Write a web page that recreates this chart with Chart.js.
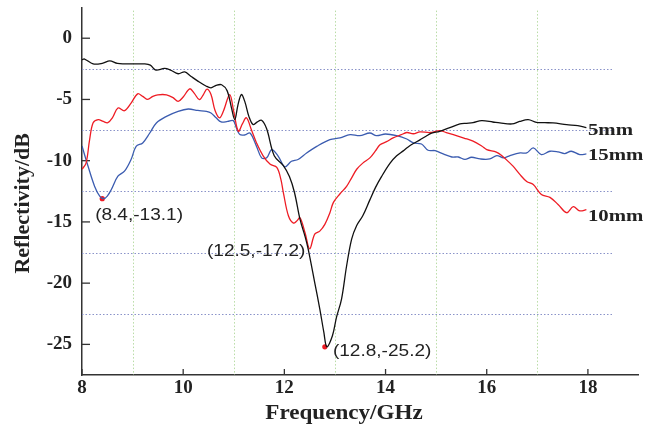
<!DOCTYPE html>
<html>
<head>
<meta charset="utf-8">
<script src="https://cdn.jsdelivr.net/npm/chart.js@4.4.1/dist/chart.umd.min.js"></script>
<style>
  html, body { margin: 0; padding: 0; background: #fff; }
  #wrap { width: 658px; height: 431px; }
</style>
</head>
<body>
<div id="wrap"><canvas id="chart"></canvas></div>
<script>
// tick labels
const xTicks = [8, 10, 12, 14, 16, 18];
const yTicks = [0, -5, -10, -15, -20, -25];
const xGridMinor = [9, 11, 13, 15, 17];
const yGridMinor = [-2.5, -7.5, -12.5, -17.5, -22.5];

// 5mm (black)
const freq5 = [8.0, 8.05, 8.22, 8.4, 8.55, 8.7, 9.05, 9.24, 9.35, 9.46, 9.63, 9.75, 9.9, 10.03, 10.15, 10.29, 10.45, 10.55, 10.65, 10.76, 10.87, 10.95, 11.02, 11.08, 11.15, 11.22, 11.3, 11.38, 11.46, 11.55, 11.65, 11.8, 11.98, 12.1, 12.2, 12.31, 12.41, 12.47, 12.6, 12.7, 12.78, 12.84, 12.95, 13.03, 13.13, 13.23, 13.33, 13.43, 13.55, 13.69, 13.8, 13.92, 14.09, 14.22, 14.35, 14.44, 14.55, 14.68, 14.8, 14.91, 15.07, 15.27, 15.47, 15.6, 15.73, 15.9, 16.12, 16.26, 16.5, 16.65, 16.82, 16.98, 17.15, 17.31, 17.58, 17.8, 17.97];
const refl5 = [-1.75, -1.7, -2.1, -2.05, -1.85, -2.05, -2.1, -2.1, -2.2, -2.6, -2.47, -2.6, -2.9, -2.75, -3.1, -3.5, -3.9, -4.05, -3.85, -3.8, -4.3, -5.6, -6.65, -5.5, -4.6, -5.2, -6.4, -7.05, -6.85, -6.7, -7.4, -9.6, -10.4, -11.3, -12.6, -14.8, -16.2, -17.2, -19.95, -22.1, -24.0, -25.2, -24.3, -22.8, -21.3, -18.6, -16.4, -15.3, -14.5, -13.2, -12.2, -11.3, -10.2, -9.6, -9.2, -8.9, -8.6, -8.3, -8.0, -7.75, -7.6, -7.3, -7.0, -6.95, -6.9, -6.73, -6.84, -6.92, -7.0, -6.8, -6.65, -6.87, -6.9, -6.92, -7.06, -7.14, -7.3];

// 10mm (red)
const freq10 = [8.0, 8.08, 8.15, 8.22, 8.32, 8.42, 8.51, 8.6, 8.71, 8.84, 8.97, 9.1, 9.2, 9.3, 9.4, 9.5, 9.67, 9.8, 9.9, 10.0, 10.13, 10.22, 10.32, 10.4, 10.47, 10.55, 10.63, 10.72, 10.8, 10.92, 11.0, 11.09, 11.17, 11.25, 11.35, 11.45, 11.58, 11.72, 11.85, 11.93, 11.98, 12.08, 12.18, 12.25, 12.31, 12.41, 12.5, 12.6, 12.7, 12.8, 12.9, 12.97, 13.1, 13.23, 13.33, 13.43, 13.55, 13.69, 13.8, 13.89, 14.02, 14.15, 14.3, 14.42, 14.55, 14.68, 14.88, 15.07, 15.2, 15.34, 15.55, 15.73, 15.9, 16.0, 16.19, 16.3, 16.46, 16.52, 16.65, 16.79, 16.92, 17.08, 17.25, 17.41, 17.58, 17.71, 17.84, 17.97];
const refl10 = [-10.7, -10.2, -8.3, -6.9, -6.65, -6.8, -6.9, -6.5, -5.7, -5.92, -5.3, -4.54, -4.75, -5.0, -4.75, -4.62, -4.62, -4.85, -5.16, -4.8, -4.13, -4.5, -5.02, -4.6, -4.15, -4.6, -5.9, -6.5, -5.9, -4.6, -6.0, -7.6, -7.0, -6.5, -7.5, -8.55, -9.6, -10.3, -10.55, -11.5, -12.6, -14.5, -15.1, -14.9, -14.66, -15.9, -17.2, -16.0, -15.75, -15.2, -14.25, -13.4, -12.7, -12.1, -11.4, -10.7, -10.2, -9.77, -9.2, -8.7, -8.45, -8.14, -7.9, -7.7, -7.8, -7.65, -7.7, -7.55, -7.7, -7.87, -8.15, -8.4, -8.8, -9.1, -9.3, -9.6, -10.2, -10.45, -11.1, -11.7, -11.95, -12.76, -13.0, -13.57, -14.25, -13.76, -14.1, -14.0];

// 15mm (blue)
const freq15 = [8.0, 8.12, 8.25, 8.35, 8.43, 8.5, 8.58, 8.71, 8.84, 8.97, 9.07, 9.2, 9.34, 9.47, 9.67, 9.9, 10.1, 10.29, 10.46, 10.55, 10.65, 10.75, 10.88, 10.99, 11.05, 11.12, 11.22, 11.32, 11.45, 11.55, 11.65, 11.75, 11.88, 12.01, 12.14, 12.27, 12.44, 12.64, 12.9, 13.1, 13.3, 13.49, 13.69, 13.82, 14.0, 14.22, 14.42, 14.55, 14.71, 14.84, 14.98, 15.14, 15.31, 15.44, 15.57, 15.7, 15.87, 16.06, 16.2, 16.33, 16.46, 16.66, 16.79, 16.92, 17.08, 17.25, 17.41, 17.54, 17.67, 17.84, 17.97];
const refl15 = [-8.8, -10.46, -12.1, -12.9, -13.1, -12.9, -12.35, -11.27, -10.86, -9.9, -8.83, -8.55, -7.74, -6.92, -6.38, -5.97, -5.78, -5.9, -5.97, -6.1, -6.5, -6.84, -6.79, -6.73, -7.3, -7.87, -7.9, -7.74, -8.83, -9.77, -9.77, -9.1, -9.64, -10.5, -10.05, -9.9, -9.37, -8.83, -8.28, -8.14, -7.87, -7.96, -7.74, -7.96, -7.82, -7.96, -8.23, -8.55, -8.64, -9.15, -9.18, -9.45, -9.7, -9.7, -9.9, -9.72, -9.86, -9.86, -9.58, -9.77, -9.58, -9.37, -9.37, -8.96, -9.5, -9.23, -9.28, -9.42, -9.23, -9.5, -9.45];

// marked minima
const minFreq = [8.4, 12.8];
const minRefl = [-13.1, -25.2];

// annotation texts
const annText = ['(8.4,-13.1)', '(12.5,-17.2)', '(12.8,-25.2)'];
const annX = [8.26, 10.47, 12.96];
const annY = [-14.45, -17.46, -25.55];

// curve names at the right end
const seriesNames = ['5mm', '15mm', '10mm'];
const nameY = [-7.6, -9.6, -14.6];

const xTitle = 'Frequency/GHz';
const yTitle = 'Reflectivity/dB';

function pts(xs, ys) {
    return xs.map((x, i) => ({ x: x, y: ys[i] }));
}

function stretchText(ctx, txt, x, y, font, sx, align) {
    ctx.save();
    ctx.font = font;
    ctx.textBaseline = 'middle';
    ctx.textAlign = align || 'left';
    ctx.translate(x, y);
    ctx.scale(sx, 1);
    ctx.fillText(txt, 0, 0);
    ctx.restore();
}

// dotted guide lines, inward tick marks, texts
const framePlugin = {
    id: 'frame',
    beforeDatasetsDraw(chart) {
        const { ctx, chartArea, scales } = chart;
        const xs = scales.x, ys = scales.y;
        ctx.save();
        ctx.lineWidth = 1;
        ctx.setLineDash([1.5, 2]);
        ctx.strokeStyle = '#b9dca6';
        xGridMinor.forEach(v => {
            const px = Math.round(xs.getPixelForValue(v)) + 0.5;
            ctx.beginPath();
            ctx.moveTo(px, chartArea.top + 3);
            ctx.lineTo(px, chartArea.bottom);
            ctx.stroke();
        });
        ctx.strokeStyle = '#8a93c9';
        yGridMinor.forEach(v => {
            const py = Math.round(ys.getPixelForValue(v)) + 0.5;
            ctx.beginPath();
            ctx.moveTo(chartArea.left, py);
            ctx.lineTo(xs.getPixelForValue(18.5), py);
            ctx.stroke();
        });
        ctx.setLineDash([]);
        ctx.strokeStyle = '#333';
        ctx.lineWidth = 1.3;
        yTicks.forEach(v => {
            const py = ys.getPixelForValue(v);
            ctx.beginPath();
            ctx.moveTo(chartArea.left, py);
            ctx.lineTo(chartArea.left + 8, py);
            ctx.stroke();
        });
        xTicks.forEach(v => {
            const px = xs.getPixelForValue(v);
            ctx.beginPath();
            ctx.moveTo(px, chartArea.bottom);
            ctx.lineTo(px, chartArea.bottom - 6);
            ctx.stroke();
        });
        ctx.restore();
    },
    afterDatasetsDraw(chart) {
        const { ctx, scales, chartArea } = chart;
        const xs = scales.x, ys = scales.y;
        ctx.save();
        ctx.fillStyle = '#222';
        annText.forEach((t, i) => {
            stretchText(ctx, t, xs.getPixelForValue(annX[i]), ys.getPixelForValue(annY[i]),
                '16px "Liberation Sans", Arial, sans-serif', 1.19);
        });
        seriesNames.forEach((t, i) => {
            stretchText(ctx, t, xs.getPixelForValue(18.0), ys.getPixelForValue(nameY[i]),
                'bold 16px "Liberation Serif", "Times New Roman", serif', 1.3);
        });
        // axis titles (sit a little off-centre in the original)
        const titleFont = 'bold 22px "Liberation Serif", "Times New Roman", serif';
        stretchText(ctx, xTitle, chartArea.left + 262, chartArea.bottom + 38, titleFont, 1.05, 'center');
        ctx.save();
        ctx.translate(23, (chartArea.top + chartArea.bottom) / 2 + 12);
        ctx.rotate(-Math.PI / 2);
        ctx.font = titleFont;
        ctx.textAlign = 'center';
        ctx.textBaseline = 'middle';
        ctx.fillText(yTitle, 0, 0);
        ctx.restore();
        ctx.restore();
    }
};

const tickFont = { family: '"Liberation Serif", "Times New Roman", serif', size: 19, weight: 'bold' };

new Chart(document.getElementById('chart'), {
    type: 'scatter',
    data: {
        datasets: [
            { label: '5mm', data: pts(freq5, refl5), showLine: true, borderColor: '#111111', borderWidth: 1.3, pointRadius: 0, tension: 0.35 },
            { label: '10mm', data: pts(freq10, refl10), showLine: true, borderColor: '#ee1c24', borderWidth: 1.3, pointRadius: 0, tension: 0.35 },
            { label: '15mm', data: pts(freq15, refl15), showLine: true, borderColor: '#3b5cb0', borderWidth: 1.3, pointRadius: 0, tension: 0.35 },
            { label: 'min', data: pts(minFreq, minRefl), showLine: false, pointRadius: 2.6, pointBackgroundColor: '#ee1c24', pointBorderColor: '#ee1c24', pointBorderWidth: 0 }
        ]
    },
    options: {
        responsive: true,
        maintainAspectRatio: false,
        animation: false,
        layout: { padding: { top: 7.6, right: 19.5, left: 0, bottom: 0 } },
        plugins: { legend: { display: false }, tooltip: { enabled: false } },
        scales: {
            x: {
                type: 'linear',
                min: 8,
                max: 19,
                afterBuildTicks: s => { s.ticks = xTicks.map(v => ({ value: v })); },
                afterFit: s => { s.height = 56; s.paddingLeft = 0; s.paddingRight = 0; },
                grid: { display: false, drawTicks: false },
                border: { display: true, color: '#333', width: 1.5 },
                ticks: { font: tickFont, color: '#222', padding: 2 }
            },
            y: {
                type: 'linear',
                min: -27.5,
                max: 2.5,
                afterBuildTicks: s => { s.ticks = yTicks.map(v => ({ value: v })); },
                afterFit: s => { s.width = 82; s.paddingTop = 0; s.paddingBottom = 0; },
                grid: { display: false, drawTicks: false },
                border: { display: true, color: '#333', width: 1.5 },
                ticks: { font: tickFont, color: '#222', padding: 10 }
            }
        }
    },
    plugins: [framePlugin]
});
</script>
</body>
</html>
